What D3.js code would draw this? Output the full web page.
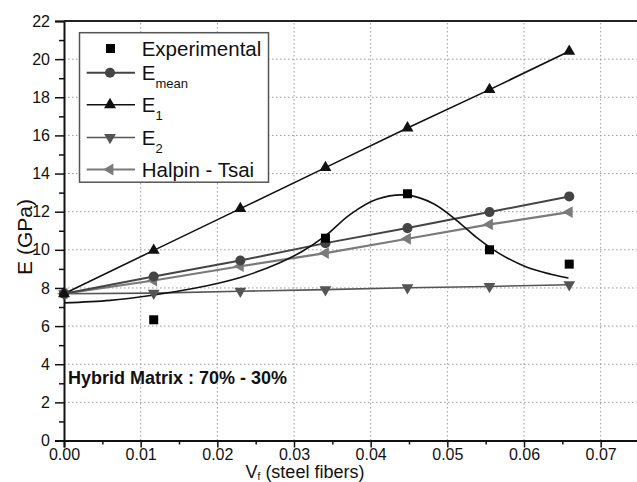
<!DOCTYPE html>
<html><head><meta charset="utf-8">
<script src="https://cdn.jsdelivr.net/npm/d3@7"></script>
<style>body{margin:0;background:#fff}svg{display:block}text{font-family:"Liberation Sans",Arial,sans-serif}</style>
</head><body><svg id="c" width="637" height="482"></svg>
<script>
// ---- data ----
const vf = [0, 0.0117, 0.0230, 0.0341, 0.0448, 0.0555, 0.0659];
const expX = [0.0117, 0.0341, 0.0448, 0.0555, 0.0659];
const expE = [6.33, 10.61, 12.94, 10.0, 9.25];
const eMean = [7.7, 8.60, 9.44, 10.35, 11.14, 11.98, 12.80];
const e1 = [7.7, 9.97, 12.16, 14.31, 16.39, 18.40, 20.41];
const e2 = [7.7, 7.73, 7.83, 7.91, 8.01, 8.08, 8.17];
const halpin = [7.7, 8.39, 9.14, 9.83, 10.58, 11.33, 11.98];
// fitted curve through the experimental points
const fitX = [0, 0.006, 0.0115, 0.017, 0.023, 0.028, 0.031, 0.034, 0.0373, 0.0408, 0.0448, 0.0482, 0.0512, 0.0538, 0.0568, 0.0603, 0.0635, 0.0658];
const fitE = [7.22, 7.35, 7.62, 7.98, 8.55, 9.3, 9.9, 10.7, 11.85, 12.65, 12.87, 12.42, 11.55, 10.65, 9.8, 9.1, 8.72, 8.52];
const xTicks = [0, 0.01, 0.02, 0.03, 0.04, 0.05, 0.06, 0.07];
const yTicks = [0, 2, 4, 6, 8, 10, 12, 14, 16, 18, 20, 22];
const legendNames = ["Experimental", "E", "E", "E", "Halpin - Tsai"];
const legendSubs = ["", "mean", "1", "2", ""];

// ---- layout ----
const L = 64, T = 21, B = 440.5, R = 639;
const x = d3.scaleLinear().domain([0, 0.075]).range([L, R]);
const y = d3.scaleLinear().domain([0, 22]).range([B, T]);
const svg = d3.select("#c");

// grid
const grid = svg.append("g").attr("stroke", "#9a9a9a").attr("stroke-width", 1).attr("stroke-dasharray", "1.5,2.5");
xTicks.filter(d => d > 0).forEach(d => grid.append("line").attr("x1", x(d)).attr("x2", x(d)).attr("y1", B).attr("y2", T));
yTicks.filter(d => d > 0 && d < 22).forEach(d => grid.append("line").attr("x1", L).attr("x2", R).attr("y1", y(d)).attr("y2", y(d)));

// axes
const xAxis = d3.axisBottom(x).tickValues(xTicks).tickFormat(d3.format(".2f")).tickSize(7).tickPadding(1);
const gx = svg.append("g").attr("transform", `translate(0,${B})`).call(xAxis);
gx.selectAll("text").attr("font-size", 16).attr("fill", "#111");
const xMinor = d3.axisBottom(x).tickValues(d3.range(0.005, 0.075, 0.01)).tickFormat("").tickSize(4);
svg.append("g").attr("transform", `translate(0,${B})`).call(xMinor).select(".domain").remove();
const yAxis = d3.axisLeft(y).tickValues(yTicks).tickFormat(d3.format("d")).tickSize(9).tickPadding(5);
const gy = svg.append("g").attr("transform", `translate(${L},0)`).call(yAxis);
gy.selectAll("text").attr("font-size", 16).attr("fill", "#111");
const yMinor = d3.axisLeft(y).tickValues(d3.range(1, 22, 2)).tickFormat("").tickSize(5);
svg.append("g").attr("transform", `translate(${L},0)`).call(yMinor).select(".domain").remove();
svg.selectAll(".domain").attr("stroke", "#111").attr("stroke-width", 2);
svg.selectAll(".tick line").attr("stroke", "#111").attr("stroke-width", 1.5);
// top frame
svg.append("line").attr("x1", L).attr("x2", R).attr("y1", T).attr("y2", T).attr("stroke", "#222").attr("stroke-width", 2);

// titles
svg.append("text").attr("transform", "translate(32,237) rotate(-90)").attr("text-anchor", "middle")
  .attr("font-size", 21).attr("fill", "#111").text("E (GPa)");
const xt = svg.append("text").attr("x", 305).attr("y", 478).attr("text-anchor", "middle").attr("font-size", 18).attr("fill", "#111");
xt.append("tspan").text("V");
xt.append("tspan").attr("font-size", 10).attr("dy", 2).text("f");
xt.append("tspan").attr("dy", -2).text(" (steel fibers)");

svg.append("text").attr("x", 68).attr("y", 383.5).attr("font-size", 18).attr("font-weight", "bold").attr("fill", "#111")
  .text("Hybrid Matrix : 70% - 30%");

// series
const series = [
  {vals: e2, color: "#555", w: 1.6, sym: d3.symbolTriangle, rot: 180, size: 60},
  {vals: halpin, color: "#7a7a7a", w: 2.2, sym: d3.symbolTriangle, rot: -90, size: 60},
  {vals: eMean, color: "#444", w: 2.0, sym: d3.symbolCircle, rot: 0, size: 80},
  {vals: e1, color: "#111", w: 1.6, sym: d3.symbolTriangle, rot: 0, size: 62}
];
const line = d3.line().x(d => x(d[0])).y(d => y(d[1]));
series.forEach(s => {
  const pts = vf.map((v, i) => [v, s.vals[i]]);
  svg.append("path").attr("d", line(pts)).attr("fill", "none").attr("stroke", s.color).attr("stroke-width", s.w);
});
// fit curve
const fitPts = fitX.map((v, i) => [v, fitE[i]]);
const curveLine = d3.line().x(d => x(d[0])).y(d => y(d[1])).curve(d3.curveCatmullRom);
svg.append("path").attr("d", curveLine(fitPts)).attr("fill", "none").attr("stroke", "#111").attr("stroke-width", 1.6);
series.forEach(s => {
  vf.forEach((v, i) => {
    svg.append("path").attr("d", d3.symbol(s.sym, s.size)())
      .attr("transform", `translate(${x(v)},${y(s.vals[i])}) rotate(${s.rot})`).attr("fill", s.color);
  });
});
// experimental squares
expX.forEach((v, i) => svg.append("rect").attr("x", x(v) - 4.5).attr("y", y(expE[i]) - 4.5)
  .attr("width", 9).attr("height", 9).attr("fill", "#000"));

// legend
const lg = svg.append("g");
lg.append("rect").attr("x", 79.5).attr("y", 32.7).attr("width", 189).attr("height", 149.5).attr("fill", "#fff").attr("stroke", "#555").attr("stroke-width", 1.5);
const rowsY = [48.5, 72.7, 104.7, 137.5, 169.5];
const legendStyles = [null, series[2], series[3], series[0], series[1]];
legendNames.forEach((name, i) => {
  const cy = rowsY[i], st = legendStyles[i];
  if (st) {
    lg.append("line").attr("x1", 86.7).attr("x2", 135).attr("y1", cy).attr("y2", cy).attr("stroke", st.color).attr("stroke-width", st.w);
    lg.append("path").attr("d", d3.symbol(st.sym, st.size)()).attr("transform", `translate(110,${cy}) rotate(${st.rot})`).attr("fill", st.color);
  } else {
    lg.append("rect").attr("x", 106).attr("y", cy - 4.5).attr("width", 9).attr("height", 9).attr("fill", "#000");
  }
  const t = lg.append("text").attr("x", 141.7).attr("y", cy + 7).attr("font-size", 20.5).attr("fill", "#111");
  t.append("tspan").text(name);
  if (legendSubs[i]) t.append("tspan").attr("font-size", 13).attr("dy", 8).text(legendSubs[i]);
});
</script></body></html>
